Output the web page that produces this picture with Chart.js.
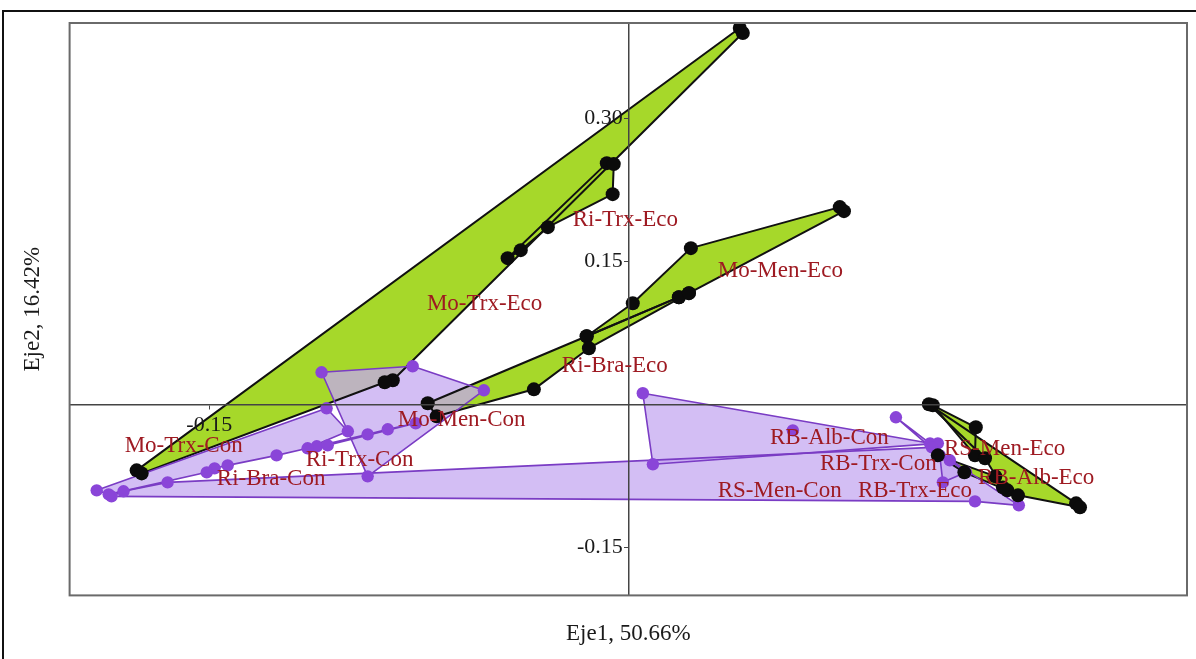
<!DOCTYPE html>
<html>
<head>
<meta charset="utf-8">
<script src="https://cdn.jsdelivr.net/npm/chart.js@4.4.1/dist/chart.umd.min.js"></script>
<style>
  html, body { margin: 0; padding: 0; background: #fff; }
  #wrap { position: relative; width: 1196px; height: 659px; overflow: hidden; }
  #wrap canvas { position: absolute; left: 0; top: 0; }
  #frame { position: absolute; left: 2px; top: 10px; width: 1194px; height: 649px;
           border-top: 2px solid #111; border-left: 2px solid #111;
           box-sizing: border-box; pointer-events: none; }
</style>
</head>
<body>
<div id="wrap">
  <canvas id="biplot" width="1196" height="659"></canvas>
  <div id="frame"></div>
</div>
<script>
// Observation scores on Eje1 / Eje2, one array per site-treatment group.
// Polygon vertices are listed in drawing order.
const moTrxEco = [[-0.1760,-0.0689],[0.0399,0.3947],[0.0410,0.3895],[-0.0843,0.0255],[-0.0872,0.0234],[-0.1742,-0.0721]];
const riTrxEco = [[-0.0432,0.1535],[-0.0077,0.2531],[-0.0052,0.2521],[-0.0056,0.2206],[-0.0288,0.1860],[-0.0385,0.1619]];
const riBraEco = [[-0.0718,0.0014],[-0.0149,0.0716],[0.0181,0.1126],[0.0217,0.1168],[-0.0141,0.0591],[-0.0338,0.0160],[-0.0686,-0.0123]];
const moMenEco = [[-0.0149,0.0716],[0.0016,0.1063],[0.0224,0.1640],[0.0757,0.2070],[0.0772,0.2028],[0.0217,0.1168],[0.0181,0.1126]];
const rbAlbEco = [[0.1076,0.0003],[0.1603,-0.1035],[0.1617,-0.1077],[0.1395,-0.0951],[0.1341,-0.0868],[0.1277,-0.0563]];
const rsMenEco = [[0.1090,-0.0007],[0.1244,-0.0238],[0.1241,-0.0532]];
const rbTrxEco = [[0.1108,-0.0532],[0.1203,-0.0710],[0.1357,-0.0899],[0.1314,-0.0752]];

const moMenCon = [[-0.1098,0.0339],[-0.0772,0.0402],[-0.0517,0.0150],[-0.0933,-0.0752]];
const moTrxCon = [[-0.1903,-0.0899],[-0.1080,-0.0039],[-0.1004,-0.0280],[-0.1148,-0.0458],[-0.1259,-0.0532],[-0.1434,-0.0637],[-0.1481,-0.0668],[-0.1509,-0.0710],[-0.1860,-0.0941]];
const riTrxCon = [[-0.1115,-0.0437],[-0.0933,-0.0312],[-0.0861,-0.0259],[-0.0761,-0.0196],[-0.1076,-0.0427]];
const rsMenCon = [[-0.1807,-0.0909],[-0.1649,-0.0815],[0.1087,-0.0448],[0.1398,-0.1056],[0.1241,-0.1014],[-0.1850,-0.0962]];
const rbAlbCon = [[0.0052,0.0119],[0.1080,-0.0406],[0.1108,-0.0406],[0.0088,-0.0626]];
const rbAlbConInner = [[0.0589,-0.0270]];
const rbTrxCon = [[0.0958,-0.0133],[0.1094,-0.0437],[0.1151,-0.0584],[0.1209,-0.0710],[0.1126,-0.0815],[0.1115,-0.0532]];

// Group name labels: text and anchor (left edge, vertical middle) in data units
const labelText = ['Mo-Trx-Eco','Ri-Trx-Eco','Mo-Men-Eco','Ri-Bra-Eco','Mo-Men-Con','Mo-Trx-Con','Ri-Trx-Con','Ri-Bra-Con','RB-Alb-Con','RS-Men-Eco','RB-Trx-Con','RB-Alb-Eco','RS-Men-Con','RB-Trx-Eco'];
const labelX = [-0.0721,-0.0199,0.0320,-0.0238,-0.0825,-0.1803,-0.1155,-0.1473,0.0507,0.1130,0.0686,0.1252,0.0320,0.0822];
const labelY = [0.1052,0.1933,0.1398,0.0402,-0.0165,-0.0437,-0.0584,-0.0784,-0.0354,-0.0469,-0.0626,-0.0773,-0.0909,-0.0909];

// Axis ticks shown on the centred axes
const xTickValues = [-0.15];
const yTickValues = [-0.15, 0.15, 0.30];

const GREEN = 'rgb(166,216,42)';
const LAVENDER = 'rgba(196,168,240,0.75)';
const PURPLE_LINE = '#7a3cc4';
const PURPLE_POINT = '#8a45d8';
const SERIF = "'Liberation Serif', 'Times New Roman', serif";

const ecoGroups = [moTrxEco, riTrxEco, riBraEco, moMenEco, rbAlbEco, rsMenEco, rbTrxEco];
const conGroups = [moMenCon, moTrxCon, riTrxCon, rsMenCon, rbAlbCon, rbTrxCon];
const conPointSets = conGroups.concat([rbAlbConInner]);

const toXY = p => ({x: p[0], y: p[1]});
const closedPath = pts => pts.concat([pts[0]]).map(toXY);

function polygonSet(pts, eco) {
  return {
    data: closedPath(pts),
    showLine: true,
    fill: 'shape',
    tension: 0,
    backgroundColor: eco ? GREEN : LAVENDER,
    borderColor: eco ? '#111' : PURPLE_LINE,
    borderWidth: eco ? 2 : 1.6,
    borderJoinStyle: 'round',
    pointRadius: 0
  };
}
function pointSet(pts, color, r) {
  return {
    data: pts.map(toXY),
    showLine: false,
    fill: false,
    pointRadius: r,
    pointBackgroundColor: color,
    pointBorderColor: color,
    pointBorderWidth: 0
  };
}

// First dataset is drawn on top
const datasets = []
  .concat(ecoGroups.map(g => pointSet(g, '#0b0b0b', 7)))
  .concat(conPointSets.map(g => pointSet(g, PURPLE_POINT, 6.2)))
  .concat(conGroups.map(g => polygonSet(g, false)))
  .concat(ecoGroups.map(g => polygonSet(g, true)));

const plotFrame = {
  id: 'plotFrame',
  afterDraw(chart) {
    const {ctx, chartArea: a} = chart;
    ctx.save();
    ctx.strokeStyle = '#6a6a6a';
    ctx.lineWidth = 2;
    ctx.strokeRect(a.left, a.top, a.right - a.left, a.bottom - a.top);
    ctx.restore();
  }
};

const groupLabels = {
  id: 'groupLabels',
  afterDraw(chart) {
    const {ctx, scales: {x, y}} = chart;
    ctx.save();
    ctx.font = '23px ' + SERIF;
    ctx.fillStyle = '#9e1a22';
    ctx.textAlign = 'left';
    ctx.textBaseline = 'middle';
    labelText.forEach((t, i) => {
      ctx.fillText(t, x.getPixelForValue(labelX[i]), y.getPixelForValue(labelY[i]));
    });
    ctx.restore();
  }
};

const centredAxis = (min, max, pos, tickValues, horizontal) => ({
  type: 'linear',
  min, max,
  position: pos,
  grid: { display: true, drawOnChartArea: false, drawTicks: true, tickLength: 4, color: '#444', z: 1 },
  border: { display: true, color: '#444', width: 1.5, z: 1 },
  ticks: {
    z: 1,
    font: { family: SERIF, size: 22 },
    color: '#1a1a1a',
    padding: 3,
    // vertical-axis labels sit against the axis line, so keep a small gap after them
    callback: v => horizontal ? Number(v).toFixed(2) : Number(v).toFixed(2) + ' '
  },
  afterBuildTicks: s => { s.ticks = tickValues.map(v => ({value: v})); },
  afterFit: s => {
    if (horizontal) s.height = 0; else s.width = 0;
    s.paddingLeft = s.paddingRight = s.paddingTop = s.paddingBottom = 0;
  }
});

new Chart(document.getElementById('biplot'), {
  type: 'scatter',
  data: { datasets },
  options: {
    responsive: false,
    animation: false,
    devicePixelRatio: 1,
    events: [],
    layout: { padding: { left: 0, top: 23, right: 9, bottom: 0 } },
    scales: {
      x: centredAxis(-0.2, 0.2, {y: 0}, xTickValues, true),
      y: centredAxis(-0.2, 0.4, {x: 0}, yTickValues, false)
    },
    plugins: {
      legend: { display: false },
      tooltip: { enabled: false },
      filler: { drawTime: 'beforeDatasetsDraw' },
      title: {
        display: true, position: 'bottom', fullSize: false,
        text: 'Eje1, 50.66%', color: '#1a1a1a',
        font: { family: SERIF, size: 23, weight: 'normal', lineHeight: 1.2 },
        padding: { top: 25, bottom: 11 }
      },
      subtitle: {
        display: true, position: 'left', fullSize: false,
        text: 'Eje2, 16.42%', color: '#1a1a1a',
        font: { family: SERIF, size: 23, weight: 'normal', lineHeight: 1.2 },
        padding: { top: 19, bottom: 23 }
      }
    }
  },
  plugins: [plotFrame, groupLabels]
});
</script>
</body>
</html>
